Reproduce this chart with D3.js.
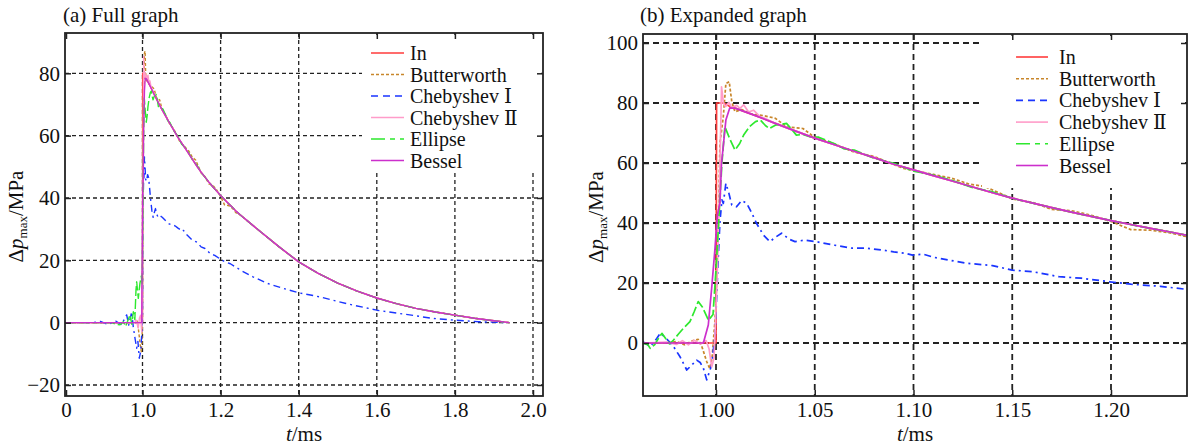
<!DOCTYPE html>
<html>
<head>
<meta charset="utf-8">
<script src="https://cdn.jsdelivr.net/npm/d3@7"></script>
<style>
  html, body { margin: 0; padding: 0; background: #fff; }
  svg { display: block; }
</style>
</head>
<body>
<div id="chart"></div>
<script>
// ---- data (t in ms, Δp in MPa) ----
const seriesNames = ['In', 'Butterworth', 'Chebyshev Ⅰ', 'Chebyshev Ⅱ', 'Ellipse', 'Bessel'];

const fullXTicks = [0, 1.0, 1.2, 1.4, 1.6, 1.8, 2.0];
const fullYTicks = [-20, 0, 20, 40, 60, 80];
const expXTicks = [1.0, 1.05, 1.1, 1.15, 1.2];
const expYTicks = [0, 20, 40, 60, 80, 100];

// common decay after the rise (expanded range)
const decayFine = [[1.01,78.2],[1.02,75.8],[1.03,73.2],[1.04,70.7],[1.05,68.3],[1.06,66.1],[1.07,63.9],[1.08,61.8],
  [1.09,59.6],[1.10,57.7],[1.11,55.8],[1.12,53.9],[1.13,52.0],[1.14,50.1],[1.15,48.3],[1.16,46.7],[1.17,45.1],
  [1.18,43.6],[1.19,42.2],[1.20,40.8],[1.21,39.5],[1.22,38.2],[1.23,37.0],[1.24,35.7]];
// decay beyond the expanded range (full graph only)
const decayTail = [[1.25,34.6],[1.30,29.4],[1.35,24.3],[1.40,19.5],[1.45,15.8],[1.50,12.7],[1.55,10.1],[1.60,7.9],
  [1.65,6.1],[1.70,4.6],[1.75,3.4],[1.80,2.4],[1.85,1.4],[1.90,0.6],[1.94,0]];
const chebITail = [[1.25,16.9],[1.283,14.7],[1.32,12.6],[1.36,11.0],[1.40,9.6],[1.453,8.3],[1.50,6.8],[1.537,5.7],
  [1.60,4.0],[1.655,3.0],[1.70,2.2],[1.74,1.4],[1.80,0.8],[1.86,0.3],[1.93,0]];

// expanded graph, per series
const inExp = [[0.963,0],[1.0,0],[1.0003,80],[1.004,80],[1.007,78.8]].concat(decayFine);
const butterExp = [[0.963,0],[0.975,0],[0.98,0.5],[0.984,-0.6],[0.988,0.7],[0.991,1.2],[0.993,-1.5],[0.9953,-6.2],
  [0.9968,-8.5],[0.998,-5.1],[0.9993,6],[1.0,12.7],[1.0012,40],[1.002,66.6],[1.0037,75.4],[1.005,86.5],[1.0067,87.1],
  [1.008,80.4],[1.0096,77.1],[1.013,77.8],[1.018,76.3],[1.024,75.8],[1.03,74.9],[1.036,72.0],[1.044,71.5],[1.05,68.5],
  [1.06,66.4],[1.07,63.6],[1.08,62.2],[1.0884,59.9],[1.095,58.2],[1.10,57.5],[1.11,56.2],[1.119,55.0],[1.128,53.0],
  [1.136,52.2],[1.145,49.6],[1.15,48.0],[1.16,46.9],[1.17,44.5],[1.18,44.1],[1.19,42.6],[1.20,40.5],[1.21,37.8],
  [1.22,37.6],[1.23,36.7],[1.24,35.2]];
const chebIExp = [[0.963,0.4],[0.9667,-1.2],[0.97,1.5],[0.9717,3.2],[0.974,2.1],[0.9765,0.3],[0.9785,-1.2],[0.9818,-4.6],
  [0.9852,-9],[0.9875,-7.5],[0.9902,-5.7],[0.992,-6.5],[0.9936,-8.4],[0.9953,-12.3],[0.9978,-7.3],[0.9995,2.7],
  [1.0003,15],[1.0012,29.3],[1.002,40.4],[1.003,47.7],[1.0037,46.5],[1.005,53.2],[1.0065,50],[1.008,46],[1.0104,45.4],
  [1.013,47.5],[1.0155,46.6],[1.018,43.5],[1.0205,39.9],[1.024,36.0],[1.0273,33.8],[1.03,35.2],[1.0332,36.6],
  [1.037,34.6],[1.04,33.8],[1.045,34.3],[1.0505,33.8],[1.06,32.6],[1.069,31.6],[1.076,31.6],[1.084,31.0],[1.09,30.4],
  [1.096,29.9],[1.0995,29.3],[1.105,29.6],[1.11,28.6],[1.1266,26.6],[1.14,25.8],[1.15,24.3],[1.16,23.8],[1.1737,22.1],
  [1.185,21.6],[1.1993,20.4],[1.21,19.6],[1.225,18.9],[1.238,17.9],[1.24,17.8]];
const chebIIExp = [[0.963,0],[0.975,0.3],[0.98,-0.5],[0.983,0.8],[0.986,-0.6],[0.989,0.9],[0.992,-0.3],[0.995,0.8],
  [0.9965,-2],[0.9978,-8],[0.999,-5],[1.0005,20],[1.0015,45],[1.0025,75],[1.0028,85.4],[1.0038,80],[1.0048,78.8],
  [1.0065,80.2],[1.008,78.5],[1.0105,79.2],[1.0121,78.2],[1.014,79.4],[1.0165,77.0],[1.019,77.6],[1.022,75.6],
  [1.025,74.8]].concat(decayFine.slice(2));
const ellipseExp = [[0.963,0],[0.9655,-0.6],[0.9667,-1.8],[0.969,-0.5],[0.9715,2.2],[0.9727,3.2],[0.9745,1.5],
  [0.9765,-0.3],[0.9785,1.0],[0.981,3.0],[0.9835,4.9],[0.9868,7.1],[0.989,10.5],[0.991,13.8],[0.993,12.1],
  [0.9962,7.6],[0.9985,9.5],[1.0003,27.7],[1.0015,42],[1.003,60],[1.0045,72.1],[1.007,68],[1.0096,64.3],[1.012,66.5],
  [1.014,69.3],[1.017,72.1],[1.02,73.8],[1.0225,74.3],[1.025,72.5],[1.027,71.5],[1.03,72.6],[1.0357,73.2],
  [1.038,71.5],[1.0407,69.3],[1.044,69.5],[1.0475,68.8],[1.052,68.6],[1.06,66.4],[1.065,64.7],[1.07,64.3],
  [1.08,61.6],[1.09,59.9],[1.10,57.3],[1.11,56.0],[1.12,54.1],[1.13,51.8],[1.14,50.4],[1.15,48.2]].concat(decayFine.slice(15));
const besselExp = [[0.963,0],[0.9936,0],[0.9961,6],[0.9978,18.2],[0.9995,31.6],[1.0007,42.7],[1.002,46.6],
  [1.0028,59.9],[1.005,74.3],[1.007,78.4]].concat(decayFine);

// full graph, pre-rise part (0 … 1.0 ms segment)
const inPre = [[0,0],[0.99,0]];
const butterPre = [[0,0],[0.9,0],[0.93,0.5],[0.945,-1.8],[0.958,-4.5],[0.97,-7.1],[0.985,-9.3],[0.995,-5]];
const chebIPre = [[0,0],[0.35,0],[0.45,0.4],[0.55,-0.6],[0.65,0.5],[0.728,-0.7],[0.76,1.0],[0.793,2.5],[0.82,-0.8],
  [0.859,3.5],[0.88,-1.5],[0.902,-5],[0.924,-8.2],[0.94,-6],[0.958,-11.4],[0.976,-9.3],[0.992,-3]];
const chebIIPre = [[0,0],[0.9,0],[0.915,0.9],[0.945,-1.7],[0.96,1.5],[0.975,2.4],[0.985,-1.5],[0.99,-3]];
const ellipsePre = [[0,0],[0.6,0],[0.65,-0.5],[0.706,-0.7],[0.749,0.3],[0.78,-1.2],[0.81,0.8],[0.837,2.5],[0.86,-0.5],
  [0.88,3.5],[0.9,1],[0.915,10.5],[0.924,13.1],[0.945,7.8],[0.967,12.7],[0.985,15],[0.995,12]];
const besselPre = [[0,0],[0.99,0]];

// ---- styles ----
const FONT = "'Liberation Serif', 'DejaVu Serif', serif";
const seriesStyle = [
  { color: '#ff3b3b', dash: null, legendDash: null },
  { color: '#c8862b', dash: '3,2', legendDash: '3,2' },
  { color: '#1a35ff', dash: '7,4,2,4', legendDash: '7,5' },
  { color: '#ff9cc9', dash: null, legendDash: null },
  { color: '#2ee82e', dash: '10,3', legendDash: '14,5,5,5' },
  { color: '#cc2fcc', dash: null, legendDash: null }
];

const joinFull = (pre, exp, tail) => pre.concat(exp.filter(d => d[0] >= 0.9995), tail);

const expData = [inExp, butterExp, chebIExp, chebIIExp, ellipseExp, besselExp];
const fullData = [
  joinFull(inPre, inExp, decayTail),
  joinFull(butterPre, butterExp, decayTail),
  joinFull(chebIPre, chebIExp, chebITail),
  joinFull(chebIIPre, chebIIExp, decayTail),
  joinFull(ellipsePre, ellipseExp, decayTail),
  joinFull(besselPre, besselExp, decayTail)
];

const svgWidth = 1196;
const svgHeight = 447;

const svg = d3.select('#chart').append('svg')
  .attr('width', svgWidth)
  .attr('height', svgHeight)
  .attr('font-family', FONT);

function drawPanel(cfg) {
  const { left, top, width, height } = cfg;
  const g = svg.append('g').attr('transform', `translate(${left},${top})`);

  const x = d3.scaleLinear().domain(cfg.xDomain).range(cfg.xRange);
  const y = d3.scaleLinear().domain(cfg.yDomain).range([height, 0]);

  const clipId = cfg.id + '-clip';
  g.append('clipPath').attr('id', clipId)
    .append('rect').attr('width', width).attr('height', height);

  // grid
  const grid = g.append('g')
    .attr('stroke', '#222')
    .attr('stroke-width', cfg.gridWidth)
    .attr('stroke-dasharray', cfg.gridDash);
  grid.selectAll('.vg').data(cfg.xTicks.filter(t => x(t) > 2)).join('line')
    .attr('x1', d => x(d)).attr('x2', d => x(d)).attr('y1', 0).attr('y2', height);
  grid.selectAll('.hg').data(cfg.yTicks).join('line')
    .attr('x1', 0).attr('x2', width).attr('y1', d => y(d)).attr('y2', d => y(d));

  // series
  const line = d3.line().x(d => x(d[0])).y(d => y(d[1]));
  const lines = g.append('g').attr('clip-path', `url(#${clipId})`);
  cfg.data.forEach((arr, i) => {
    lines.append('path')
      .datum(arr)
      .attr('fill', 'none')
      .attr('stroke', seriesStyle[i].color)
      .attr('stroke-width', cfg.lineWidth)
      .attr('stroke-linejoin', 'round')
      .attr('stroke-dasharray', seriesStyle[i].dash)
      .attr('d', line);
  });

  // legend
  const lg = g.append('g').attr('transform', `translate(${cfg.legend.x},${cfg.legend.y})`);
  lg.append('rect')
    .attr('x', 0).attr('y', 0)
    .attr('width', cfg.legend.w).attr('height', cfg.legend.h)
    .attr('fill', '#fff');
  const items = lg.selectAll('.item').data(seriesNames).join('g')
    .attr('transform', (d, i) => `translate(0,${cfg.legend.first + i * cfg.legend.step})`);
  items.append('line')
    .attr('x1', cfg.legend.lx1).attr('x2', cfg.legend.lx2)
    .attr('stroke', (d, i) => seriesStyle[i].color)
    .attr('stroke-width', 1.6)
    .attr('stroke-dasharray', (d, i) => seriesStyle[i].legendDash);
  items.append('text')
    .attr('x', cfg.legend.tx)
    .attr('dy', '0.35em')
    .attr('font-size', 20)
    .attr('fill', '#111')
    .text(d => d);

  // axes (inward ticks on all sides)
  const fontAxis = sel => sel.call(s => s.select('.domain').remove())
    .call(s => s.selectAll('text').attr('font-family', FONT).attr('font-size', 21).attr('fill', '#111'))
    .call(s => s.selectAll('line').attr('stroke', '#222').attr('stroke-width', 1.5));

  g.append('g').attr('transform', `translate(0,${height})`)
    .call(d3.axisBottom(x).tickValues(cfg.xTicks).tickFormat(cfg.xFormat).tickSizeInner(-6).tickSizeOuter(0).tickPadding(6))
    .call(fontAxis);
  g.append('g')
    .call(d3.axisTop(x).tickValues(cfg.xTicks).tickFormat('').tickSizeInner(-6).tickSizeOuter(0))
    .call(fontAxis);
  g.append('g')
    .call(d3.axisLeft(y).tickValues(cfg.yTicks).tickSizeInner(-6).tickSizeOuter(0).tickPadding(5))
    .call(fontAxis);
  g.append('g').attr('transform', `translate(${width},0)`)
    .call(d3.axisRight(y).tickValues(cfg.yTicks).tickFormat('').tickSizeInner(-6).tickSizeOuter(0))
    .call(fontAxis);

  // frame
  g.append('rect')
    .attr('width', width).attr('height', height)
    .attr('fill', 'none').attr('stroke', '#222').attr('stroke-width', 1.8);

  // title
  svg.append('text')
    .attr('x', cfg.titleX).attr('y', 22)
    .attr('font-size', 21).attr('fill', '#111')
    .text(cfg.title);

  // x label
  const xl = svg.append('text')
    .attr('x', left + width / 2).attr('y', 441)
    .attr('text-anchor', 'middle')
    .attr('font-size', 21).attr('fill', '#111');
  xl.append('tspan').attr('font-style', 'italic').text('t');
  xl.append('tspan').text('/ms');

  // y label
  const yl = svg.append('text')
    .attr('transform', `translate(${cfg.yLabelX},${top + height / 2 + 2}) rotate(-90)`)
    .attr('text-anchor', 'middle')
    .attr('font-size', 21).attr('fill', '#111');
  yl.append('tspan').text('Δ');
  yl.append('tspan').attr('font-style', 'italic').text('p');
  yl.append('tspan').attr('font-size', 13).attr('dy', 4).text('max');
  yl.append('tspan').attr('dy', -4).text('/MPa');
}

drawPanel({
  id: 'full',
  left: 65, top: 33, width: 478, height: 363,
  xDomain: [0, 1, 2], xRange: [1, 77.5, 468],
  yDomain: [-23.53, 92.93],
  xTicks: fullXTicks, yTicks: fullYTicks,
  xFormat: d => (d === 0 ? '0' : d3.format('.1f')(d)),
  gridDash: '4,3', gridWidth: 1.3, lineWidth: 1.4,
  data: fullData,
  legend: { x: 297, y: 2, w: 176, h: 135, first: 18, step: 21.5, lx1: 9, lx2: 42, tx: 48 },
  title: '(a) Full graph', titleX: 63,
  yLabelX: 23
});

drawPanel({
  id: 'exp',
  left: 643, top: 34, width: 544, height: 362,
  xDomain: [0.96304, 1.23848], xRange: [0, 544],
  yDomain: [-17.67, 103],
  xTicks: expXTicks, yTicks: expYTicks,
  xFormat: d3.format('.2f'),
  gridDash: '6,4', gridWidth: 1.8, lineWidth: 1.7,
  data: expData,
  legend: { x: 339, y: 2, w: 203, h: 152, first: 21, step: 21.7, lx1: 34, lx2: 66, tx: 77 },
  title: '(b) Expanded graph', titleX: 640,
  yLabelX: 603
});
</script>
</body>
</html>
